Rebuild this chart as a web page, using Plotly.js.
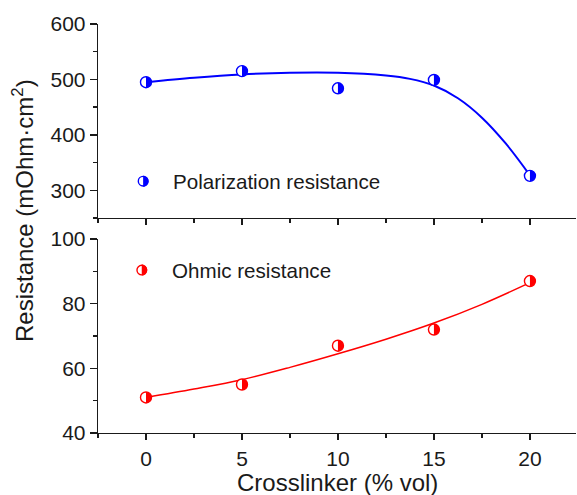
<!DOCTYPE html>
<html>
<head>
<meta charset="utf-8">
<script src="https://cdn.plot.ly/plotly-3.0.1.min.js"></script>
<style>
  html, body { margin: 0; padding: 0; background: #fff; }
  #chart { width: 577px; height: 495px; }
</style>
</head>
<body>
<div id="chart"></div>
<script>
// Measured resistances versus crosslinker content
const crosslinker = [0, 5, 10, 15, 20];
const polarization = [495, 515, 484, 499, 326];
const ohmic = [51, 55, 67, 72, 87];

// Smooth fitted trend lines
const polarizationFitX = [0, 2.5, 5, 7.5, 10, 12.5, 13.75, 15, 16.25, 17.5, 18.75, 20];
const polarizationFit = [495, 503, 509, 512, 512, 507, 501, 489, 466, 431, 384, 327];
const ohmicFitX = [0, 2.5, 5, 7.5, 10, 12.5, 15, 17.5, 20];
const ohmicFit = [51, 53.6, 56.5, 60.3, 64.5, 69, 74, 79.8, 86.5];

// Tick values
const xTicks = [0, 5, 10, 15, 20];
const xTickText = ['0', '5', '10', '15', '20'];
const topTicks = [300, 400, 500, 600];
const bottomTicks = [40, 60, 80, 100];

// Series labels
const seriesNames = ['Polarization resistance', 'Ohmic resistance'];

const BLUE = '#0000ff';
const RED = '#ff0000';
const INK = '#1a1a1a';
const FONT = 'Arial, "Liberation Sans", Helvetica, sans-serif';
const R = 5.5;     // marker radius in px
const K = 0.5523;  // bezier quarter-circle constant

// right half of a disc, in pixel offsets from its anchor
const halfDisc = (r) =>
  `M0,${-r} C${K * r},${-r} ${r},${-K * r} ${r},0 C${r},${K * r} ${K * r},${r} 0,${r} Z`;

const xRange = [-2.5, 22.4];

const fitTop = {
  x: polarizationFitX, y: polarizationFit, xaxis: 'x2', yaxis: 'y2',
  mode: 'lines', line: { color: BLUE, width: 2, shape: 'spline', smoothing: 1 },
  hoverinfo: 'skip', showlegend: false
};
const ptsTop = {
  x: crosslinker, y: polarization, xaxis: 'x2', yaxis: 'y2',
  mode: 'markers', name: seriesNames[0],
  marker: { symbol: 'circle', size: 2 * R, color: '#ffffff', line: { color: BLUE, width: 1.4 } },
  showlegend: false
};
const fitBottom = {
  x: ohmicFitX, y: ohmicFit, xaxis: 'x', yaxis: 'y',
  mode: 'lines', line: { color: RED, width: 1.5, shape: 'spline', smoothing: 1 },
  hoverinfo: 'skip', showlegend: false
};
const ptsBottom = {
  x: crosslinker, y: ohmic, xaxis: 'x', yaxis: 'y',
  mode: 'markers', name: seriesNames[1],
  marker: { symbol: 'circle', size: 2 * R, color: '#ffffff', line: { color: RED, width: 1.4 } },
  showlegend: false
};

// half-filled point markers
function halfFills(xs, ys, xref, yref, color) {
  return xs.map((x, i) => ({
    type: 'path', xref, yref, xsizemode: 'pixel', ysizemode: 'pixel',
    xanchor: x, yanchor: ys[i], path: halfDisc(R),
    fillcolor: color, line: { width: 0 }, layer: 'above'
  }));
}

// key symbol: open circle plus filled right half
function keySymbol(x, y, xref, yref, color) {
  return [
    { type: 'circle', xref, yref, xsizemode: 'pixel', ysizemode: 'pixel',
      xanchor: x, yanchor: y, x0: -R + 0.7, x1: R - 0.7, y0: -R + 0.7, y1: R - 0.7,
      fillcolor: '#ffffff', line: { color, width: 1.4 }, layer: 'above' },
    { type: 'path', xref, yref, xsizemode: 'pixel', ysizemode: 'pixel',
      xanchor: x, yanchor: y, path: halfDisc(R), fillcolor: color,
      line: { width: 0 }, layer: 'above' }
  ];
}

const tickFont = { family: FONT, size: 21, color: INK };
const axisLine = { showline: true, linecolor: INK, linewidth: 1.3, tickcolor: INK, tickwidth: 1.3,
  showgrid: false, zeroline: false, fixedrange: true };

const topDomain = [0.5257, 1];
const bottomDomain = [0, 0.4743];

const layout = {
  width: 577, height: 495,
  margin: { l: 98, r: 1, t: 24, b: 62 },
  paper_bgcolor: '#ffffff', plot_bgcolor: '#ffffff',
  font: { family: FONT, color: INK },
  showlegend: false,
  // bottom panel
  xaxis: Object.assign({}, axisLine, {
    anchor: 'y', domain: [0, 1], range: xRange, side: 'bottom',
    tickmode: 'array', tickvals: xTicks, ticktext: xTickText,
    ticks: 'outside', ticklen: 6, tickfont: tickFont,
    minor: { dtick: 2.5, tick0: 0, ticks: 'outside', ticklen: 4, tickcolor: INK, tickwidth: 1.3 }
  }),
  yaxis: Object.assign({}, axisLine, {
    anchor: 'x', domain: bottomDomain, range: [40, 100],
    tickmode: 'array', tickvals: bottomTicks,
    ticks: 'outside', ticklen: 7, tickfont: tickFont,
    minor: { dtick: 10, tick0: 40, ticks: 'outside', ticklen: 4, tickcolor: INK, tickwidth: 1.3 }
  }),
  // top panel
  xaxis2: Object.assign({}, axisLine, {
    anchor: 'y2', domain: [0, 1], range: xRange, side: 'bottom',
    tickmode: 'array', tickvals: xTicks, showticklabels: false,
    ticks: 'outside', ticklen: 6,
    minor: { dtick: 2.5, tick0: 0, ticks: 'outside', ticklen: 4, tickcolor: INK, tickwidth: 1.3 }
  }),
  yaxis2: Object.assign({}, axisLine, {
    anchor: 'x2', domain: topDomain, range: [250, 600],
    tickmode: 'array', tickvals: topTicks,
    ticks: 'outside', ticklen: 7, tickfont: tickFont,
    minor: { dtick: 50, tick0: 250, ticks: 'outside', ticklen: 4, tickcolor: INK, tickwidth: 1.3 }
  }),
  // frame edges with inward ticks
  xaxis3: Object.assign({}, axisLine, {
    overlaying: 'x2', anchor: 'y2', side: 'top', range: xRange,
    tickmode: 'array', tickvals: xTicks, showticklabels: false,
    ticks: 'inside', ticklen: 6,
    minor: { dtick: 2.5, tick0: 0, ticks: 'inside', ticklen: 4, tickcolor: INK, tickwidth: 1.3 }
  }),
  xaxis4: Object.assign({}, axisLine, {
    overlaying: 'x', anchor: 'y', side: 'top', range: xRange,
    tickmode: 'array', tickvals: xTicks, showticklabels: false,
    ticks: 'inside', ticklen: 6,
    minor: { dtick: 2.5, tick0: 0, ticks: 'inside', ticklen: 4, tickcolor: INK, tickwidth: 1.3 }
  }),
  yaxis3: Object.assign({}, axisLine, {
    overlaying: 'y', anchor: 'x', side: 'right', range: [40, 100],
    tickmode: 'array', tickvals: bottomTicks, showticklabels: false,
    ticks: 'inside', ticklen: 6,
    minor: { dtick: 10, tick0: 40, ticks: 'inside', ticklen: 3, tickcolor: INK, tickwidth: 1.3 }
  }),
  yaxis4: Object.assign({}, axisLine, {
    overlaying: 'y2', anchor: 'x2', side: 'right', range: [250, 600],
    tickmode: 'array', tickvals: topTicks, showticklabels: false,
    ticks: 'inside', ticklen: 6,
    minor: { dtick: 50, tick0: 250, ticks: 'inside', ticklen: 3, tickcolor: INK, tickwidth: 1.3 }
  }),
  shapes: [].concat(
    halfFills(crosslinker, polarization, 'x2', 'y2', BLUE),
    halfFills(crosslinker, ohmic, 'x', 'y', RED),
    keySymbol(-0.15, 316.5, 'x2', 'y2', BLUE),
    keySymbol(-0.22, 90.4, 'x', 'y', RED)
  ),
  annotations: [
    { text: seriesNames[0], xref: 'x2', yref: 'y2', x: 1.3, y: 316.5,
      xanchor: 'left', yanchor: 'middle', showarrow: false,
      font: { family: FONT, size: 20.6, color: INK } },
    { text: seriesNames[1], xref: 'x', yref: 'y', x: 1.25, y: 90.4,
      xanchor: 'left', yanchor: 'middle', showarrow: false,
      font: { family: FONT, size: 20.6, color: INK } },
    { text: 'Resistance (mOhm·cm<sup>2</sup>)', xref: 'paper', yref: 'paper',
      x: -0.157, y: 0.545, textangle: -90, xanchor: 'center', yanchor: 'middle',
      showarrow: false, font: { family: FONT, size: 24, color: INK } },
    { text: 'Crosslinker (% vol)', xref: 'paper', yref: 'paper',
      x: 0.5, y: -0.122, xanchor: 'center', yanchor: 'middle',
      showarrow: false, font: { family: FONT, size: 24, color: INK } }
  ]
};

Plotly.newPlot('chart', [fitTop, fitBottom, ptsTop, ptsBottom], layout,
  { staticPlot: true, displayModeBar: false });
</script>
</body>
</html>
